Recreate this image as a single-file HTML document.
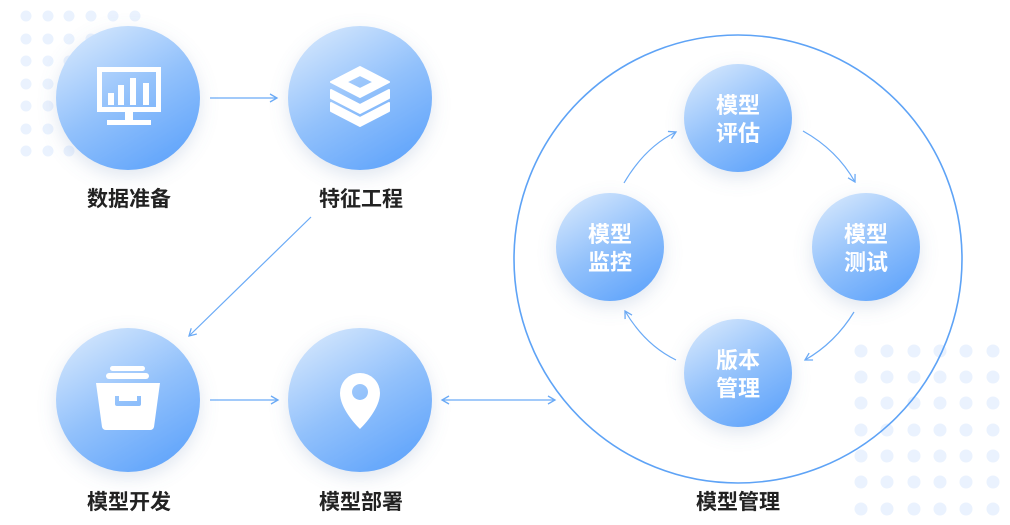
<!DOCTYPE html>
<html><head><meta charset="utf-8"><style>
html,body{margin:0;padding:0;background:#fff;}
svg{display:block;}
text{font-family:"Liberation Sans","Noto Sans CJK SC",sans-serif;font-weight:bold;}
</style></head><body>
<svg width="1010" height="525" viewBox="0 0 1010 525" xmlns="http://www.w3.org/2000/svg">
<defs>
<linearGradient id="g" x1="0.2" y1="0" x2="0.8" y2="1">
<stop offset="0" stop-color="#d3e6fd"/><stop offset="0.5" stop-color="#92c1fb"/><stop offset="1" stop-color="#5ea3fb"/>
</linearGradient>
<filter id="sh" x="-40%" y="-40%" width="180%" height="180%"><feDropShadow dx="0" dy="6" stdDeviation="9" flood-color="#6f8fb8" flood-opacity="0.22"/></filter>
<marker id="ah" markerWidth="10" markerHeight="10" refX="8" refY="5" orient="auto" markerUnits="userSpaceOnUse"><path d="M1,1 L8,5 L1,9" fill="none" stroke="#6aaaf6" stroke-width="1.3"/></marker>
<marker id="ahs" markerWidth="10" markerHeight="10" refX="8" refY="5" orient="auto-start-reverse" markerUnits="userSpaceOnUse"><path d="M1,1 L8,5 L1,9" fill="none" stroke="#6aaaf6" stroke-width="1.3"/></marker>
</defs>
<g fill="#eaf2fe">
<g id="tl">
<circle cx="26" cy="16" r="5.5"/><circle cx="48" cy="16" r="5.5"/><circle cx="69" cy="16" r="5.5"/><circle cx="91" cy="16" r="5.5"/><circle cx="113" cy="16" r="5.5"/><circle cx="135" cy="16" r="5.5"/>
</g>
<use href="#tl" y="23"/><use href="#tl" y="45"/><use href="#tl" y="68"/><use href="#tl" y="90"/><use href="#tl" y="113"/><use href="#tl" y="135"/>
<g id="br">
<circle cx="861" cy="351" r="6.5"/><circle cx="887" cy="351" r="6.5"/><circle cx="914" cy="351" r="6.5"/><circle cx="940" cy="351" r="6.5"/><circle cx="966" cy="351" r="6.5"/><circle cx="993" cy="351" r="6.5"/>
</g>
<use href="#br" y="26"/><use href="#br" y="52"/><use href="#br" y="79"/><use href="#br" y="105"/><use href="#br" y="131"/><use href="#br" y="158"/>
</g>
<circle cx="738" cy="259" r="224" fill="none" stroke="#5ea3f6" stroke-width="1.6"/>
<g stroke="#6aaaf6" stroke-width="1.2" fill="none">
<line x1="210" y1="98" x2="277" y2="98" marker-end="url(#ah)"/>
<line x1="311" y1="217" x2="189" y2="336" marker-end="url(#ah)"/>
<line x1="210" y1="400" x2="278" y2="400" marker-end="url(#ah)"/>
<line x1="442" y1="400" x2="555" y2="400" marker-start="url(#ahs)" marker-end="url(#ah)"/>
<path d="M624,183 Q645,147 676,132" marker-end="url(#ah)"/>
<path d="M803,131 Q837,150 855,182" marker-end="url(#ah)"/>
<path d="M854,312 Q835,343 805,360" marker-end="url(#ah)"/>
<path d="M676,360 Q645,345 625,311" marker-end="url(#ah)"/>
</g>
<g filter="url(#sh)" fill="url(#g)">
<circle cx="128" cy="98" r="72"/><circle cx="360" cy="98" r="72"/>
<circle cx="128" cy="400" r="72"/><circle cx="360" cy="400" r="72"/>
<circle cx="738" cy="118" r="54"/><circle cx="610" cy="247" r="54"/>
<circle cx="866" cy="247" r="54"/><circle cx="738" cy="373" r="54"/>
</g>
<g fill="#fff">
<path d="M97,67 h64 v45 h-64z M102,72 v35 h54 v-35z" fill-rule="evenodd"/>
<rect x="125" y="112" width="8" height="8"/><rect x="107" y="120" width="44" height="5"/>
<rect x="108" y="93" width="6" height="12"/><rect x="118" y="85" width="6" height="20"/><rect x="130" y="78" width="6" height="27"/><rect x="143" y="83" width="6" height="22"/>
<path d="M360,67 l29,15 l-29,15 l-29,-15z M360,75 l-14,7 l14,7 l14,-7z" fill-rule="evenodd" stroke="#fff" stroke-width="2" stroke-linejoin="round"/>
<path d="M331,90 l29,15 l29,-15 v8 l-29,15 l-29,-15z" stroke="#fff" stroke-width="2" stroke-linejoin="round"/>
<path d="M331,103 l29,15 l29,-15 v8 l-29,15 l-29,-15z" stroke="#fff" stroke-width="2" stroke-linejoin="round"/>
<rect x="106" y="373" width="43" height="6" rx="3"/><rect x="110" y="366" width="35" height="5" rx="2.5"/>
<path d="M96,383 h64 l-6,44 q-1,3 -4,3 h-44 q-3,0 -4,-3z M115,396 v8 q0,2 2,2 h22 q2,0 2,-2 v-8 h-4 v5 h-18 v-5z" fill-rule="evenodd"/>
<path d="M360,373 a20,20 0 0 1 20,20 c0,15 -15,31 -20,36 c-5,-5 -20,-21 -20,-36 a20,20 0 0 1 20,-20z M360,384 a8,8 0 1 0 0.01,0z" fill-rule="evenodd"/>
</g>
<g fill="#fff" font-size="22" text-anchor="middle">
<text x="738" y="113">模型</text><text x="738" y="141">评估</text>
<text x="610" y="242">模型</text><text x="610" y="270">监控</text>
<text x="866" y="242">模型</text><text x="866" y="270">测试</text>
<text x="738" y="368">版本</text><text x="738" y="396">管理</text>
</g>
<g fill="#222" font-size="21" text-anchor="middle">
<text x="129" y="206">数据准备</text><text x="361" y="206">特征工程</text>
<text x="129" y="509">模型开发</text><text x="361" y="509">模型部署</text>
<text x="738" y="509">模型管理</text>
</g>
</svg>
</body></html>
